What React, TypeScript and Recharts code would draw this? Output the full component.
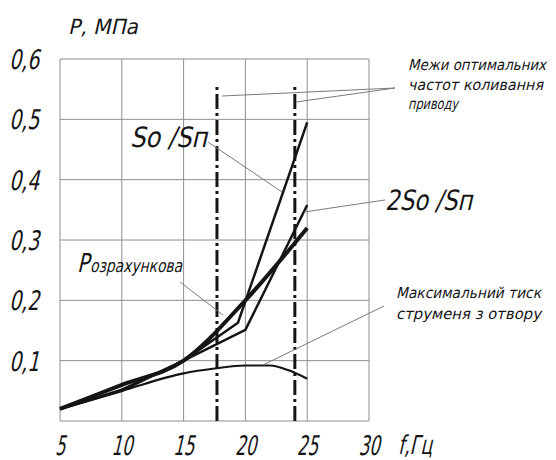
import {
  LineChart,
  Line,
  XAxis,
  YAxis,
  CartesianGrid,
  ReferenceLine,
} from "recharts";

// axis ticks
const freqTicks = [5, 10, 15, 20, 25, 30];
const pressureTicks = [0, 0.1, 0.2, 0.3, 0.4, 0.5, 0.6];

// P розрахункова (thick curve)
const calcFreq = [5, 10, 15, 20, 25];
const calcP = [0.02, 0.06, 0.1, 0.2, 0.32];

// So / Sп
const soFreq = [5, 10, 15, 19.4, 25];
const soP = [0.02, 0.052, 0.1, 0.163, 0.495];

// 2So / Sп
const twoSoFreq = [5, 10, 15, 20, 25];
const twoSoP = [0.02, 0.05, 0.1, 0.151, 0.358];

// максимальний тиск струменя з отвору
const jetFreq = [5, 10, 15, 17.5, 20, 22, 23.5, 25];
const jetP = [0.02, 0.05, 0.079, 0.087, 0.092, 0.092, 0.084, 0.07];

// межі оптимальних частот коливання приводу
const limitFreq = [17.7, 24];
const limitTop = 0.555;

const toRows = (fs: number[], ps: number[]) => fs.map((f, i) => ({ f, p: ps[i] }));

const FONT = "'DejaVu Sans Condensed', 'Liberation Sans Narrow', 'Liberation Sans', sans-serif";
const INK = "#151515";
const GRID = "#8e8e8e";
const LEADER = "#7a7a7a";

const fmt = (v: number) => v.toFixed(1).replace(".", ",");

// slanted drafting-style text, width forced to match the drawing
function Txt({
  x,
  y,
  size,
  w,
  anchor = "start",
  children,
}: {
  x: number;
  y: number;
  size: number;
  w: number;
  anchor?: "start" | "middle" | "end";
  children: any;
}) {
  return (
    <text
      transform={`translate(${x},${y}) skewX(-13)`}
      x={0}
      y={0}
      textAnchor={anchor}
      fontFamily={FONT}
      fontSize={size}
      fill={INK}
      textLength={w}
      lengthAdjust="spacingAndGlyphs"
    >
      {children}
    </text>
  );
}

function YTick(props: any) {
  const { y, payload } = props;
  if (payload.value === 0) return null;
  return (
    <Txt x={39} y={y + 10} size={27} w={30} anchor="end">
      {fmt(payload.value)}
    </Txt>
  );
}

function XTick(props: any) {
  const { x, payload } = props;
  const label = String(payload.value);
  return (
    <Txt x={x} y={455} size={27} w={label.length > 1 ? 21 : 10} anchor="middle">
      {label}
    </Txt>
  );
}

export default function App() {
  return (
    <div style={{ position: "absolute", left: 0, top: 0, width: 556, height: 460, background: "#fff" }}>
      <LineChart width={556} height={460} margin={{ top: 59, right: 187, left: 0, bottom: 0 }}>
        <CartesianGrid stroke={GRID} strokeWidth={1} />
        <XAxis
          type="number"
          dataKey="f"
          domain={[5, 30]}
          ticks={freqTicks}
          height={39}
          axisLine={false}
          tickLine={false}
          tick={<XTick />}
          allowDuplicatedCategory={false}
        />
        <YAxis
          type="number"
          dataKey="p"
          domain={[0, 0.6]}
          ticks={pressureTicks}
          width={60}
          axisLine={false}
          tickLine={false}
          tick={<YTick />}
        />
        {limitFreq.map((f) => (
          <ReferenceLine
            key={f}
            segment={[
              { x: f, y: 0 },
              { x: f, y: limitTop },
            ]}
            stroke={INK}
            strokeWidth={3}
            strokeDasharray="15 4 3 4"
          />
        ))}
        <Line
          data={toRows(jetFreq, jetP)}
          dataKey="p"
          type="monotone"
          stroke={INK}
          strokeWidth={2.2}
          dot={false}
          isAnimationActive={false}
        />
        <Line
          data={toRows(twoSoFreq, twoSoP)}
          dataKey="p"
          type="linear"
          stroke={INK}
          strokeWidth={2.5}
          dot={false}
          isAnimationActive={false}
        />
        <Line
          data={toRows(soFreq, soP)}
          dataKey="p"
          type="linear"
          stroke={INK}
          strokeWidth={2.5}
          dot={false}
          isAnimationActive={false}
        />
        <Line
          data={toRows(calcFreq, calcP)}
          dataKey="p"
          type="monotone"
          stroke={INK}
          strokeWidth={4}
          dot={false}
          isAnimationActive={false}
        />
      </LineChart>

      {/* labels and leaders */}
      <svg width={556} height={460} style={{ position: "absolute", left: 0, top: 0, pointerEvents: "none" }}>
        <g stroke={LEADER} strokeWidth={1}>
          <line x1={395} y1={88} x2={222} y2={96} />
          <line x1={395} y1={88} x2={296} y2={102} />
          <line x1={208} y1={142} x2={282} y2={192} />
          <line x1={385} y1={200} x2={304} y2={212} />
          <line x1={180} y1={282} x2={223} y2={315} />
          <line x1={384} y1={306} x2={263} y2={365} />
        </g>

        <Txt x={68} y={34} size={21} w={70}>P, МПа</Txt>
        <Txt x={398} y={454} size={26} w={34}>f,Гц</Txt>

        <Txt x={408} y={70} size={15} w={138}>Межи оптимальних</Txt>
        <Txt x={408} y={90} size={15} w={135}>частот коливання</Txt>
        <Txt x={408} y={109} size={15} w={50}>приводу</Txt>

        <Txt x={130} y={147} size={28} w={77}>So /Sп</Txt>
        <Txt x={385} y={210} size={28} w={87}>2So /Sп</Txt>

        <Txt x={77} y={272} size={26} w={12}>P</Txt>
        <Txt x={90} y={272} size={18} w={92}>озрахункова</Txt>

        <Txt x={396} y={298} size={15} w={145}>Максимальний тиск</Txt>
        <Txt x={396} y={319} size={15} w={145}>струменя з отвору</Txt>
      </svg>
    </div>
  );
}
